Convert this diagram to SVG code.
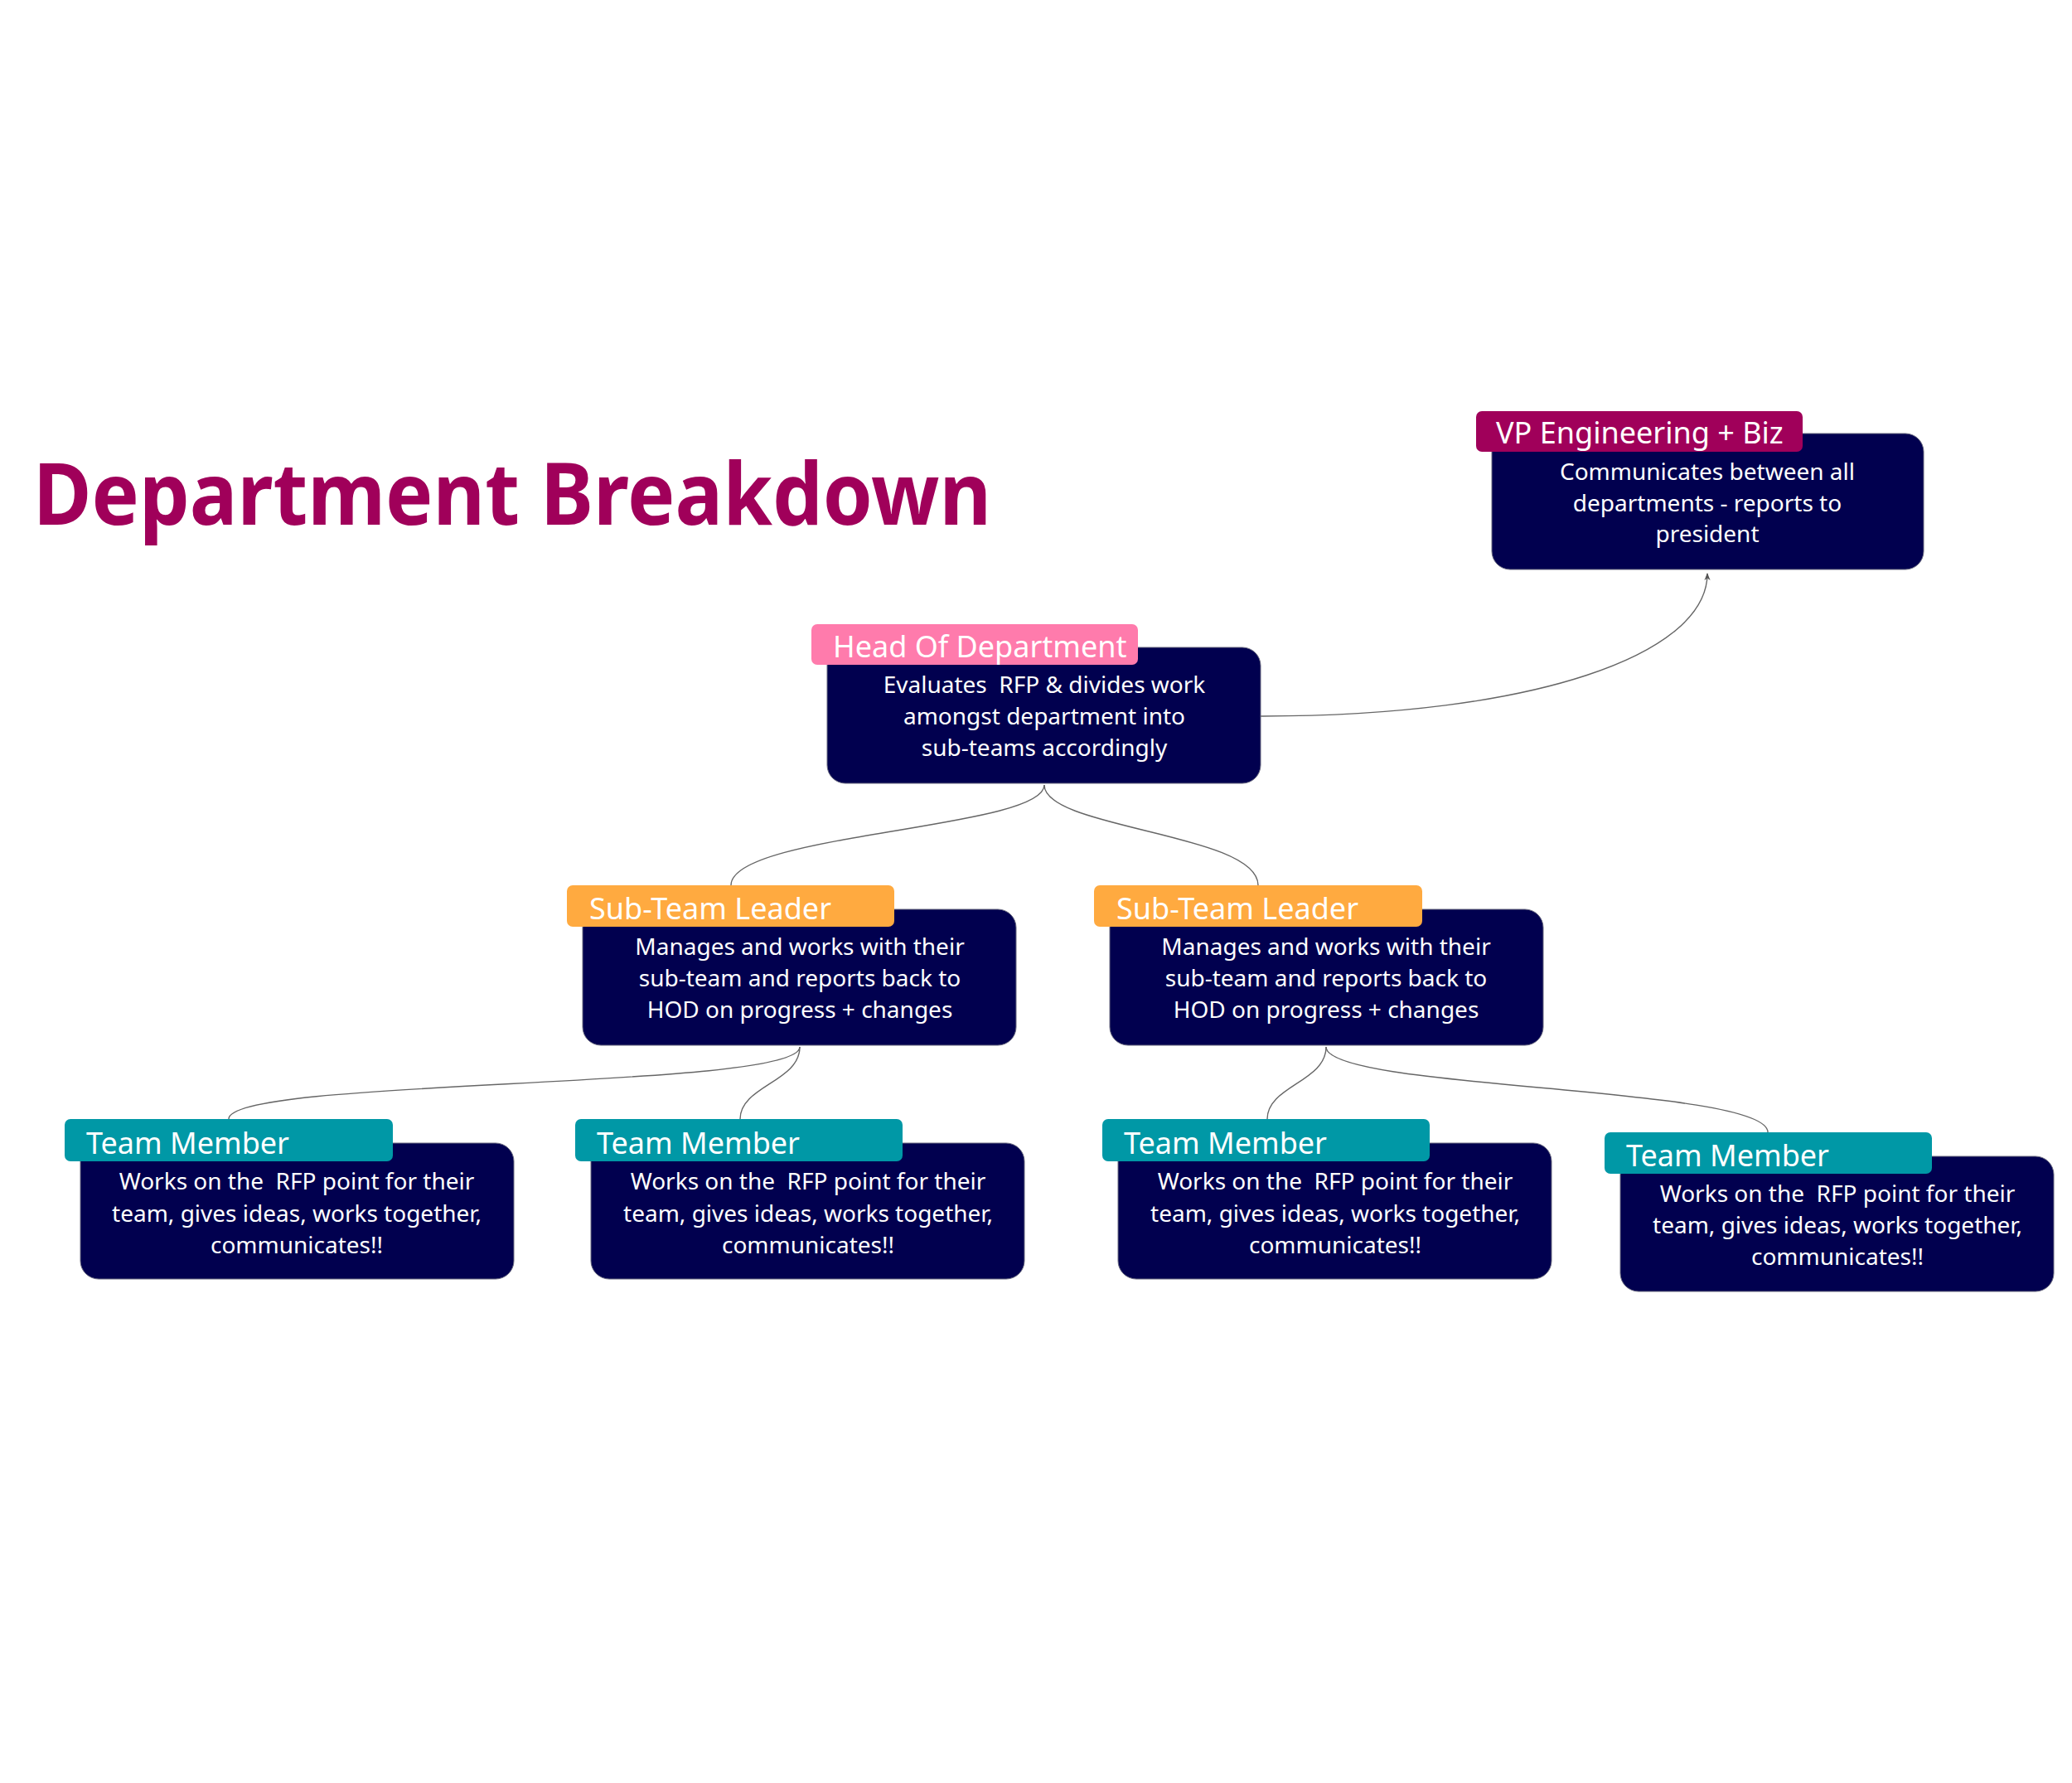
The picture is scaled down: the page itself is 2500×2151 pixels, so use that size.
<svg xmlns="http://www.w3.org/2000/svg" width="2500" height="2151" viewBox="0 0 2500 2151">
<defs>
<style>
.box{fill:#01004F;stroke:#6b6b80;stroke-width:1}
.tab-vp{fill:#A0005A}
.tab-hod{fill:#FF7BAC}
.tab-stl{fill:#FFAA40}
.tab-tm{fill:#0098A6}
.lbl{font-family:"Noto Sans","Open Sans",sans-serif;font-size:36px;fill:#ffffff}
.txt{font-family:"Noto Sans","Open Sans",sans-serif;font-size:28px;fill:#ffffff;text-anchor:middle}
.conn{fill:none;stroke:#666666;stroke-width:1.4}
.title{font-family:"Noto Sans","Open Sans",sans-serif;font-weight:700;font-size:104px;fill:#A0005A}
</style>
<marker id="arrow" viewBox="0 0 10 10" refX="9" refY="5" markerWidth="9" markerHeight="9" orient="auto" markerUnits="userSpaceOnUse">
<path d="M0,1 L10,5 L0,9 L3,5 Z" fill="#555555"/>
</marker>
</defs>
<rect width="2500" height="2151" fill="#ffffff"/>
<text class="title" x="40" y="633" textLength="1156" lengthAdjust="spacingAndGlyphs">Department Breakdown</text>

<g id="connectors">
<path class="conn" d="M1521,864 C1850,864 2060,790 2060,692" marker-end="url(#arrow)"/>
<path class="conn" d="M1260,947 C1260,1000 882,1005 882,1068"/>
<path class="conn" d="M1260,947 C1260,1000 1518,1005 1518,1068"/>
<path class="conn" d="M965,1263 C965,1315 276,1300 276,1350"/>
<path class="conn" d="M965,1263 C965,1305 893,1310 893,1350"/>
<path class="conn" d="M1600,1263 C1600,1305 1529,1310 1529,1350"/>
<path class="conn" d="M1600,1263 C1600,1315 2133,1310 2133,1366"/>
</g>

<g id="vp">
<rect class="box" x="1800" y="523" width="521" height="164" rx="22"/>
<rect class="tab-vp" x="1781" y="496" width="394" height="49" rx="7"/>
<text class="lbl" x="1805" y="535">VP Engineering + Biz</text>
<text class="txt" x="2060" y="579">Communicates between all</text>
<text class="txt" x="2060" y="617">departments - reports to</text>
<text class="txt" x="2060" y="654">president</text>
</g>

<g id="hod">
<rect class="box" x="998" y="781" width="523" height="164" rx="22"/>
<rect class="tab-hod" x="979" y="753" width="394" height="49" rx="7"/>
<text class="lbl" x="1005" y="793">Head Of Department</text>
<text class="txt" x="1260" y="836" xml:space="preserve">Evaluates  RFP &amp; divides work</text>
<text class="txt" x="1260" y="874">amongst department into</text>
<text class="txt" x="1260" y="912">sub-teams accordingly</text>
</g>

<g id="stl1">
<rect class="box" x="703" y="1097" width="523" height="164" rx="22"/>
<rect class="tab-stl" x="684" y="1068" width="395" height="50" rx="7"/>
<text class="lbl" x="711" y="1109">Sub-Team Leader</text>
<text class="txt" x="965" y="1152">Manages and works with their</text>
<text class="txt" x="965" y="1190">sub-team and reports back to</text>
<text class="txt" x="965" y="1228">HOD on progress + changes</text>
</g>

<g id="stl2">
<rect class="box" x="1339" y="1097" width="523" height="164" rx="22"/>
<rect class="tab-stl" x="1320" y="1068" width="396" height="50" rx="7"/>
<text class="lbl" x="1347" y="1109">Sub-Team Leader</text>
<text class="txt" x="1600" y="1152">Manages and works with their</text>
<text class="txt" x="1600" y="1190">sub-team and reports back to</text>
<text class="txt" x="1600" y="1228">HOD on progress + changes</text>
</g>

<g id="tm1">
<rect class="box" x="97" y="1379" width="523" height="164" rx="22"/>
<rect class="tab-tm" x="78" y="1350" width="396" height="51" rx="7"/>
<text class="lbl" x="104" y="1392">Team Member</text>
<text class="txt" x="358" y="1435" xml:space="preserve">Works on the  RFP point for their</text>
<text class="txt" x="358" y="1474">team, gives ideas, works together,</text>
<text class="txt" x="358" y="1512">communicates!!</text>
</g>

<g id="tm2">
<rect class="box" x="713" y="1379" width="523" height="164" rx="22"/>
<rect class="tab-tm" x="694" y="1350" width="395" height="51" rx="7"/>
<text class="lbl" x="720" y="1392">Team Member</text>
<text class="txt" x="975" y="1435" xml:space="preserve">Works on the  RFP point for their</text>
<text class="txt" x="975" y="1474">team, gives ideas, works together,</text>
<text class="txt" x="975" y="1512">communicates!!</text>
</g>

<g id="tm3">
<rect class="box" x="1349" y="1379" width="523" height="164" rx="22"/>
<rect class="tab-tm" x="1330" y="1350" width="395" height="51" rx="7"/>
<text class="lbl" x="1356" y="1392">Team Member</text>
<text class="txt" x="1611" y="1435" xml:space="preserve">Works on the  RFP point for their</text>
<text class="txt" x="1611" y="1474">team, gives ideas, works together,</text>
<text class="txt" x="1611" y="1512">communicates!!</text>
</g>

<g id="tm4">
<rect class="box" x="1955" y="1395" width="523" height="163" rx="22"/>
<rect class="tab-tm" x="1936" y="1366" width="395" height="50" rx="7"/>
<text class="lbl" x="1962" y="1407">Team Member</text>
<text class="txt" x="2217" y="1450" xml:space="preserve">Works on the  RFP point for their</text>
<text class="txt" x="2217" y="1488">team, gives ideas, works together,</text>
<text class="txt" x="2217" y="1526">communicates!!</text>
</g>
</svg>
